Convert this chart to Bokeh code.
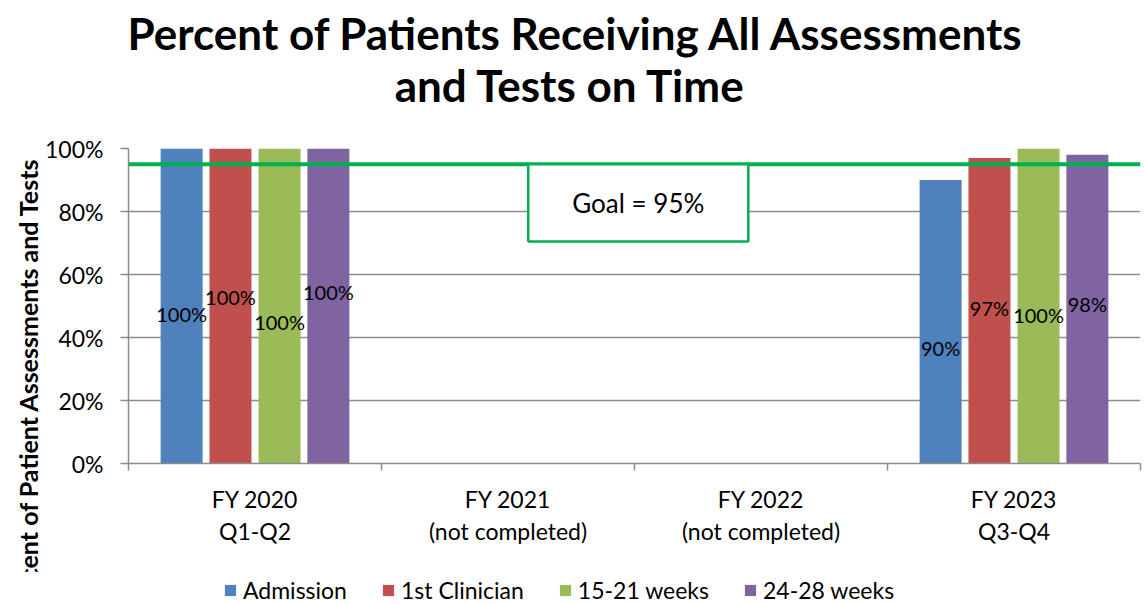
import math
import numpy as np
from bokeh.plotting import figure
from bokeh.layouts import column
from bokeh.models import (ColumnDataSource, FixedTicker, NumeralTickFormatter, Span,
                          BoxAnnotation, Label, LabelSet, Legend, LegendItem, Title)
from bokeh.core.properties import value
from bokeh.embed import file_html
from bokeh.resources import INLINE

# ---------------- data ----------------
categories = ["FY 2020\nQ1-Q2", "FY 2021\n(not completed)", "FY 2022\n(not completed)", "FY 2023\nQ3-Q4"]
series_names = ["Admission", "1st Clinician", "15-21 weeks", "24-28 weeks"]
admission = [1.00, np.nan, np.nan, 0.90]
first_clinician = [1.00, np.nan, np.nan, 0.97]
weeks_15_21 = [1.00, np.nan, np.nan, 1.00]
weeks_24_28 = [1.00, np.nan, np.nan, 0.98]
goal = 0.95
y_ticks = [0, 0.2, 0.4, 0.6, 0.8, 1.0]
title_lines = ["Percent of Patients Receiving All Assessments", "and Tests on Time"]

# ---------------- styles / positions ----------------
colors = ["#4F81BD", "#C0504D", "#9BBB59", "#8064A2"]
offsets = [-0.29, -0.097, 0.097, 0.29]
bar_width = 0.166
# data-label heights (fraction of axis) per series per category, as placed in the original
label_heights = [
    [0.476, None, None, 0.368],
    [0.530, None, None, 0.495],
    [0.450, None, None, 0.473],
    [0.546, None, None, 0.505],
]
FONT = "Lato"
GRID = "#8C8C8C"
GREEN = "#00B050"
W = 1144
FRAME_LEFT = 128          # frames of the stacked figures are aligned on this
TITLE_H = 120
LEGEND_H = 32

# ---------------- title strip ----------------
t = figure(width=W, height=TITLE_H, x_range=(0, 1), y_range=(0, 1),
           output_backend="svg", toolbar_location=None,
           x_axis_location=None, y_axis_location=None, min_border=0)
t.outline_line_color = None
t.grid.visible = False
for txt, cx, sy in zip(title_lines, [576 - FRAME_LEFT, 570 - FRAME_LEFT], [88, 36]):
    t.add_layout(Label(x=cx, y=sy, x_units="screen", y_units="screen", text=txt,
                       text_align="center", text_baseline="middle", text_font=FONT,
                       text_font_size="44px", text_font_style="bold", text_color="black"))

# ---------------- main chart ----------------
p = figure(frame_width=1012, frame_height=315, x_range=(0, 4), y_range=(0, 1),
           output_backend="svg", toolbar_location=None,
           min_border_left=FRAME_LEFT, min_border_right=4, min_border_top=148 - TITLE_H,
           min_border_bottom=604 - 463 - LEGEND_H)
p.outline_line_color = None
p.background_fill_color = "white"
p.border_fill_color = "white"

series = [admission, first_clinician, weeks_15_21, weeks_24_28]
centers = [i + 0.5 for i in range(len(categories))]
for k, vals in enumerate(series):
    xs = [c + offsets[k] for c in centers]
    src = ColumnDataSource(dict(x=xs, top=vals))
    p.vbar(x="x", top="top", width=bar_width, bottom=0, source=src,
           fill_color=colors[k], line_color=None)

# goal line
p.add_layout(Span(location=goal, dimension="width", line_color=GREEN, line_width=4))

# goal box
p.add_layout(BoxAnnotation(left=1.58, right=2.45, top=goal, bottom=0.705,
                           fill_color="white", fill_alpha=1.0,
                           line_color=GREEN, line_width=2.5, line_alpha=1.0))
p.add_layout(Label(x=2.015, y=0.827, text="Goal = 95%", text_align="center",
                   text_baseline="middle", text_font=FONT, text_font_size="26px",
                   text_color="black"))

# data labels
for k, vals in enumerate(series):
    lx, ly, lt = [], [], []
    for i, v in enumerate(vals):
        if not (isinstance(v, float) and math.isnan(v)):
            lx.append(centers[i] + offsets[k])
            ly.append(label_heights[k][i])
            lt.append(f"{round(v * 100)}%")
    src = ColumnDataSource(dict(x=lx, y=ly, t=lt))
    p.add_layout(LabelSet(x="x", y="y", text="t", source=src, text_align="center",
                          text_baseline="middle", text_font=value(FONT), text_font_size=value("20px"),
                          text_color="black"))

# axes
p.xgrid.visible = False
p.ygrid.grid_line_color = GRID
p.ygrid.grid_line_width = 1.5
p.ygrid.ticker = FixedTicker(ticks=y_ticks)

p.yaxis.ticker = FixedTicker(ticks=y_ticks)
p.yaxis.formatter = NumeralTickFormatter(format="0%")
p.yaxis.axis_line_color = GRID
p.yaxis.axis_line_width = 1.5
p.yaxis.major_tick_line_color = GRID
p.yaxis.major_tick_line_width = 1.5
p.yaxis.major_tick_out = 8
p.yaxis.major_tick_in = 0
p.yaxis.minor_tick_line_color = None
p.yaxis.major_label_standoff = 17
p.yaxis.major_label_text_font = FONT
p.yaxis.major_label_text_font_size = "23px"
p.yaxis.major_label_text_color = "black"

p.xaxis.ticker = FixedTicker(ticks=centers, minor_ticks=list(range(len(categories) + 1)))
p.xaxis.major_label_overrides = {c: lab for c, lab in zip(centers, categories)}
p.xaxis.axis_line_color = GRID
p.xaxis.axis_line_width = 1.5
p.xaxis.major_tick_line_color = None
p.xaxis.major_tick_out = 0
p.xaxis.major_tick_in = 0
p.xaxis.minor_tick_line_color = GRID
p.xaxis.minor_tick_line_width = 1.5
p.xaxis.minor_tick_out = 7
p.xaxis.minor_tick_in = 0
p.xaxis.major_label_standoff = 14
p.xaxis.major_label_text_font = FONT
p.xaxis.major_label_text_font_size = "23px"
p.xaxis.major_label_text_line_height = 1.16
p.xaxis.major_label_text_color = "black"

# y-axis title as a vertical title on the left, anchored near the frame top
p.add_layout(Title(text="Percent of Patient Assessments and Tests", align="right", offset=9,
                   text_font=FONT, text_font_size="25px", text_font_style="bold",
                   text_color="black", standoff=0), "left")

# ---------------- legend strip ----------------
lg = figure(width=W, height=LEGEND_H, x_range=(0, 1), y_range=(0, 1),
            output_backend="svg", toolbar_location=None,
            x_axis_location=None, y_axis_location=None, min_border=0)
lg.outline_line_color = None
lg.grid.visible = False
# zero-height swatch renderers that only supply the legend keys' colours
swatches = [lg.vbar(x=[0.5], top=[0], bottom=0, width=0.1, fill_color=c, line_color=None)
            for c in colors]
legend = Legend(items=[LegendItem(label=n, renderers=[r]) for n, r in zip(series_names, swatches)],
                orientation="horizontal", location=(223 - FRAME_LEFT, 0),
                glyph_width=14, glyph_height=14, label_standoff=6, spacing=34,
                label_text_font=FONT, label_text_font_size="23px", label_text_color="black",
                border_line_color=None, background_fill_alpha=0,
                padding=2, margin=0)
lg.add_layout(legend, "center")

layout = column(t, p, lg, spacing=0)
open("out.html", "w").write(file_html(layout, INLINE))
